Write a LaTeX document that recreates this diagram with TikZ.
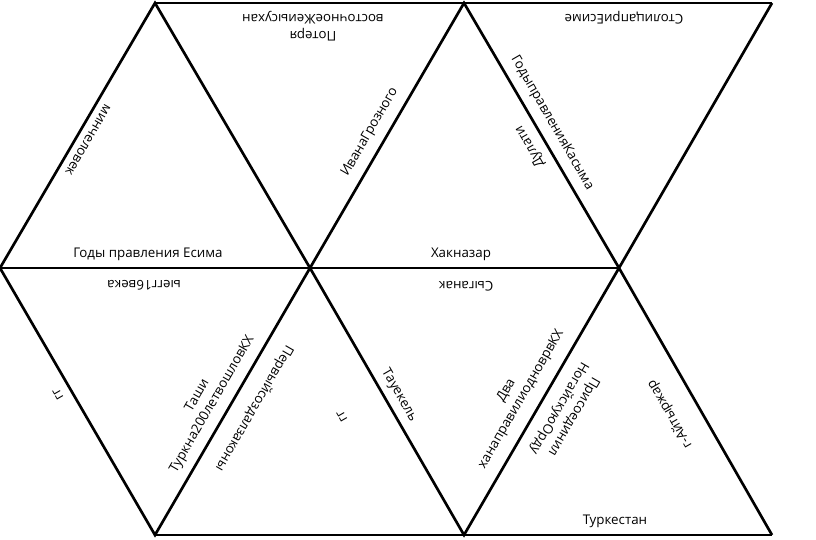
\documentclass[tikz,border=0pt]{standalone}
\usepackage{fontspec}
\setmainfont{Open Sans}

\tikzset{
	edgeline/.style={line width=2pt, line join=miter},
	lbl/.style={font=\fontsize{10}{12.75}\selectfont, inner sep=0pt, align=center},
}

\begin{document}
\begin{tikzpicture}[x=0.75pt, y=-0.75pt]
	\useasboundingbox (0,0) rectangle (816,539);

	% vertices of the puzzle
	\coordinate (M0) at (0,268);
	\coordinate (M1) at (310,268);
	\coordinate (M2) at (619,268);
	\coordinate (A1) at (155,3);
	\coordinate (A2) at (464,3);
	\coordinate (A3) at (772,3);
	\coordinate (B1) at (155,535);
	\coordinate (B2) at (464,535);
	\coordinate (B3) at (772,535);

	\draw[edgeline] (A1) -- (A3);
	\draw[edgeline] (M0) -- (M2);
	\draw[edgeline] (B1) -- (B3);
	\draw[edgeline] (M0) -- (A1) -- (M1) -- (A2) -- (M2) -- (A3);
	\draw[edgeline] (M0) -- (B1) -- (M1) -- (B2) -- (M2) -- (B3);

	% top row
	\node[lbl, rotate=240] (minch) at (88,140) {минчеловек};
	\node[lbl] (gody) at (148,254) {Годы правления Есима};
	\node[lbl, rotate=180] (poter) at (313,26) {Потеря\\восточноеЖеиысухан};
	\node[lbl, rotate=60] (ivan) at (370,132) {ИванаГрозного};
	\node[lbl] (khak) at (461,254) {Хакназар};
	\node[lbl, rotate=120] (dulati) at (530,146) {Дулати};
	\node[lbl, rotate=-60] (kasym) at (552,123) {ГодыправленияКасыма};
	\node[lbl, rotate=180] (stol) at (624,18) {СтолицаприЕсиме};

	% bottom row
	\node[lbl, rotate=180] (vek) at (144,285) {ыегг16века};
	\node[lbl, rotate=120] (gg1) at (58,394) {гг};
	\node[lbl, rotate=60] (tashi) at (205,400) {Таши\\Туркна200летвошловКХ};
	\node[lbl, rotate=240] (perv) at (254,408) {Первыйсоздалзаконы};
	\node[lbl, rotate=120] (gg2) at (342,416) {гг};
	\node[lbl, rotate=-60] (tauek) at (399,395) {Тауекель};
	\node[lbl, rotate=180] (syg) at (466,286) {Сыганак};
	\node[lbl, rotate=60] (dva) at (514,395) {Два\\ханаправилиодноврвКХ};
	\node[lbl, rotate=240] (prisoed) at (566,412) {Присоединил\\НогайскуюОрду};
	\node[lbl, rotate=120] (ayt) at (670,414) {г-Айтыржар};
	\node[lbl] (turk) at (615,521) {Туркестан};
\end{tikzpicture}
\end{document}
